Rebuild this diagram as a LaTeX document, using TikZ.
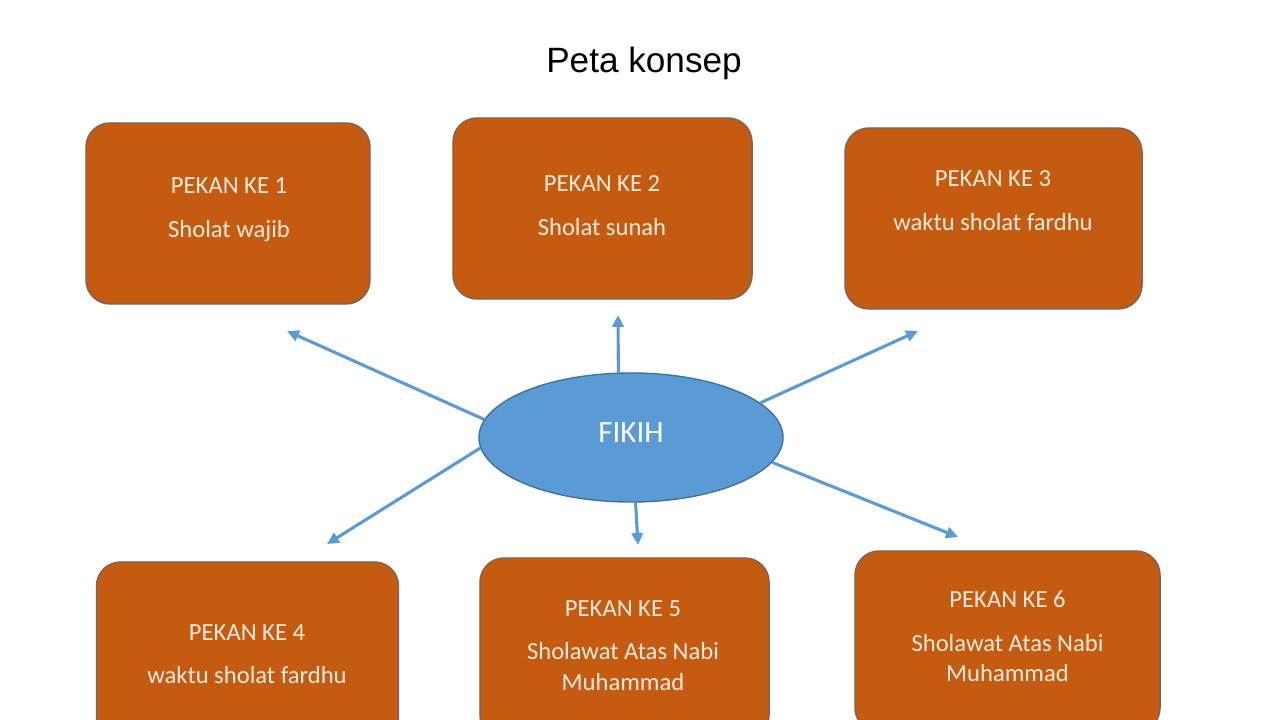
\documentclass[tikz,border=0pt]{standalone}
\usepackage{xcolor}
\usepackage{fontspec}
\setmainfont{Carlito}
\newfontfamily\titlefont{Liberation Sans}
\usepackage{tikz}
\usetikzlibrary{shapes.geometric, arrows.meta}

\definecolor{boxorange}{HTML}{C55A11}
\definecolor{boxedge}{HTML}{7A6558}
\definecolor{boxtext}{HTML}{FCEBDD}
\definecolor{fikihblue}{HTML}{5B9BD5}
\definecolor{fikihedge}{HTML}{41719C}

\begin{document}
\begin{tikzpicture}[x=0.025cm, y=-0.025cm,
        pekan/.style={rectangle, rounded corners=0.6cm, draw=boxedge, line width=1pt, fill=boxorange, minimum height=4.525cm, inner sep=0pt},
        isi/.style={text=boxtext, align=center, font=\fontsize{17.5}{22}\selectfont, inner sep=0pt},
        panah/.style={-{Triangle[length=8.5pt, width=8pt]}, line width=2.2pt, draw=fikihblue}]
        \clip (0, 0) rectangle (1280, 720);
        \fill[white] (0, 0) rectangle (1280, 720);

        \node[font=\titlefont\fontsize{25}{30}\selectfont, inner sep=0pt] at (644, 63) (judul) {Peta konsep};

        % kotak pekan
        \node[pekan, minimum width=7.1cm] at (228, 213.5) (p1) {};
        \node[pekan, minimum width=7.475cm] at (602.5, 208.5) (p2) {};
        \node[pekan, minimum width=7.425cm] at (993.5, 218.5) (p3) {};
        \node[pekan, minimum width=7.55cm] at (247.5, 652.5) (p4) {};
        \node[pekan, minimum width=7.225cm] at (624.5, 648.5) (p5) {};
        \node[pekan, minimum width=7.625cm] at (1007.5, 641.5) (p6) {};

        \node[isi] at (229, 209.5) (isi1) {PEKAN KE 1\\[9pt]Sholat wajib};
        \node[isi] at (602, 205.5) (isi2) {PEKAN KE 2\\[9pt]Sholat sunah};
        \node[isi] at (993, 200.5) (isi3) {PEKAN KE 3\\[9pt]waktu sholat fardhu};
        \node[isi] at (247, 654) (isi4) {PEKAN KE 4\\[9pt]waktu sholat fardhu};
        \node[isi] at (623, 645.5) (isi5) {PEKAN KE 5\\[9pt]Sholawat Atas Nabi\\Muhammad};
        \node[isi] at (1007.5, 636.5) (isi6) {PEKAN KE 6\\[9pt]Sholawat Atas Nabi\\Muhammad};

        % pusat
        \node[ellipse, draw=fikihedge, line width=1pt, fill=fikihblue, minimum width=7.6cm, minimum height=3.225cm, inner sep=0pt, text=white, text depth=6.4pt, font=\fontsize{22}{26}\selectfont] at (631, 437.5) (F) {FIKIH};

        \coordinate (t1) at (287, 331);
        \coordinate (t2) at (618, 315);
        \coordinate (t3) at (918, 331);
        \coordinate (t4) at (327, 544);
        \coordinate (t5) at (638, 545);
        \coordinate (t6) at (958, 537);

        \draw[panah] (F.173) -- (t1);
        \draw[panah] (F.101) -- (t2);
        \draw[panah] (F.15) -- (t3);
        \draw[panah] (F.184) -- (t4);
        \draw[panah] (F.-86) -- (t5);
        \draw[panah] (F.-10) -- (t6);
    \end{tikzpicture}
\end{document}
